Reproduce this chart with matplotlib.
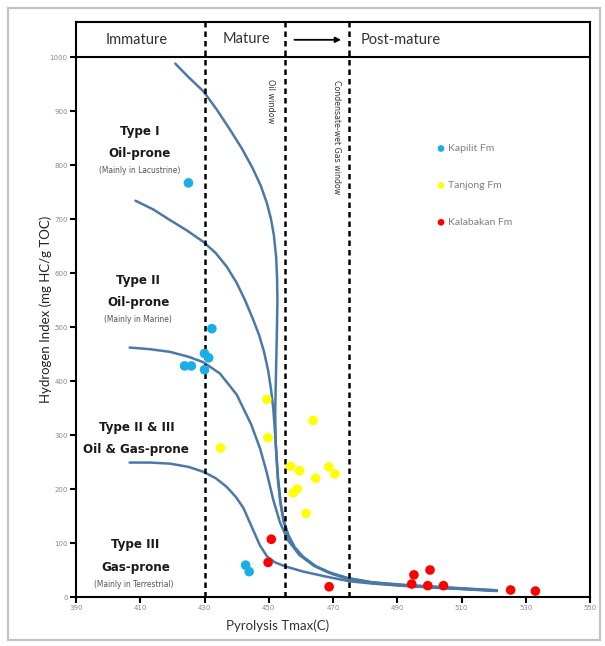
import matplotlib
matplotlib.use('Agg')
import matplotlib.pyplot as plt
from matplotlib import font_manager
from matplotlib.font_manager import FontProperties
from matplotlib.patches import Rectangle

names = {f.name for f in font_manager.fontManager.ttflist}
MAIN = 'Lato' if 'Lato' in names else 'DejaVu Sans'

FILES = [f.fname for f in font_manager.fontManager.ttflist]


def find_narrow(bold):
    if bold:
        prefs = ['LiberationSansNarrow-Bold.', 'DejaVuSansCondensed-Bold.', 'RobotoCondensed-Bold.',
                 'OpenSans-CondBold', 'OpenSans_Condensed-Bold', 'Condensed-Bold.', 'Narrow-Bold.']
    else:
        prefs = ['LiberationSansNarrow-Regular.', 'DejaVuSansCondensed.', 'RobotoCondensed-Regular.',
                 'OpenSans_Condensed-Regular', 'Condensed-Regular.', 'Narrow-Regular.']
    for p in prefs:
        for fn in FILES:
            if p in fn.replace('\\', '/').split('/')[-1] + '':
                return fn
    return None


NB = find_narrow(True)
NR = find_narrow(False)


def fp_bold(size):
    if NB is not None:
        return FontProperties(fname=NB, size=size)
    return FontProperties(family='DejaVu Sans', weight='bold', size=size * 0.8)


def fp_reg(size):
    if NR is not None:
        return FontProperties(fname=NR, size=size)
    return FontProperties(family='DejaVu Sans', size=size * 0.85)


# ---------------- data ----------------
x_ticks = [390, 410, 430, 450, 470, 490, 510, 530, 550]
y_ticks = [0, 100, 200, 300, 400, 500, 600, 700, 800, 900, 1000]

zone_bounds = [430, 455, 475]

kapilit_t = [425.0, 432.3, 430.0, 431.3, 430.0, 423.8, 425.9, 442.8, 443.9]
kapilit_hi = [767, 497, 451, 443, 421, 428, 428, 59, 47]

tanjong_t = [449.4, 449.8, 435.0, 463.8, 456.8, 459.6, 468.7, 470.6, 464.6, 458.9, 457.6, 461.6]
tanjong_hi = [366, 295, 276, 327, 242, 234, 241, 228, 220, 200, 193, 155]

kalabakan_t = [450.8, 449.8, 468.8, 495.2, 500.2, 494.5, 499.5, 504.4, 525.3, 533.0]
kalabakan_hi = [107, 64, 19, 41, 50, 24, 21, 21, 13, 11]

# maturation pathways
type1_t = [420.9, 425.0, 429.6, 433.8, 437.9, 441.7, 445.0, 447.5, 449.4, 450.7, 451.6, 452.3,
           452.6, 452.7, 452.5, 452.2, 452.0, 452.2, 452.8, 453.6, 454.6, 456.0, 458.0, 460.5,
           464.5, 469.0, 474.5, 482.0, 492.0, 502.0, 512.0, 521.0]
type1_hi = [988, 963, 937, 903, 866, 830, 794, 762, 730, 700, 670, 630,
            590, 550, 480, 400, 340, 280, 220, 175, 140, 115, 92, 75,
            57, 45, 35, 27, 22, 18.5, 15, 12]

type2_t = [408.5, 414.0, 419.3, 424.5, 429.6, 433.5, 436.9, 440.0, 442.6, 445.2, 447.0, 448.5,
           449.8, 450.7, 451.4, 452.0, 452.4, 452.9, 453.7, 454.7, 456.1, 458.1, 460.6,
           464.6, 469.1, 474.6, 482.0, 492.0, 502.0, 512.0, 521.0]
type2_hi = [734, 718, 698, 679, 658, 637, 612, 582, 550, 513, 485, 455,
            420, 385, 350, 300, 265, 220, 175, 140, 115, 92, 75,
            57, 45, 35, 27.5, 22.5, 19, 15.5, 12.5]

type23_t = [406.7, 413.0, 419.3, 425.0, 429.6, 434.8, 440.0, 444.5, 447.3, 449.4, 451.4, 453.5,
            456.0, 459.5, 464.0, 469.5, 475.0, 482.0, 492.0, 502.0, 512.0, 521.0]
type23_hi = [462, 459, 454, 445, 435, 414, 375, 320, 275, 230, 180, 138,
             105, 78, 58, 43, 33, 26, 21, 17.5, 14.5, 11.5]

type3_t = [406.7, 413.0, 419.3, 425.0, 429.6, 433.5, 436.9, 439.8, 442.1, 444.7, 447.3, 449.5,
           452.0, 455.0, 460.8, 468.0, 475.3, 482.0, 492.0, 502.0, 512.0, 521.0]
type3_hi = [249, 249, 247, 241, 232, 220, 204, 185, 165, 130, 95, 75,
            64, 57, 47, 37.6, 29, 25, 20.5, 17, 14, 11]

# ---------------- figure ----------------
fig = plt.figure(figsize=(6.05, 6.46), dpi=100)
fig.patch.set_facecolor('white')
fig.patches.append(Rectangle((8 / 605, 1 - 640 / 646), (600 - 8) / 605, (640 - 8) / 646,
                             transform=fig.transFigure, fill=False,
                             edgecolor='#c4c4c4', lw=1.6))

ax = fig.add_axes([76 / 605, 1 - 597 / 646, 514 / 605, 575 / 646])
ax.set_xlim(390, 550)
ax.set_ylim(0, 1065)

curve_col = '#4a79a8'
for t, h in [(type1_t, type1_hi), (type2_t, type2_hi), (type23_t, type23_hi), (type3_t, type3_hi)]:
    ax.plot(t, h, color=curve_col, lw=1.8, solid_capstyle='round', solid_joinstyle='round', zorder=3)

for xb in zone_bounds:
    ax.axvline(xb, color='black', lw=1.8, ls=(0, (2.2, 1.6)), zorder=4)
ax.axhline(1000, color='black', lw=1.5, zorder=4)

ax.scatter(kapilit_t, kapilit_hi, s=48, color='#1aaee8', edgecolors='none', zorder=5, label='Kapilit Fm')
ax.scatter(tanjong_t, tanjong_hi, s=48, color='#ffff00', edgecolors='none', zorder=5, label='Tanjong Fm')
ax.scatter(kalabakan_t, kalabakan_hi, s=48, color='#ff0000', edgecolors='none', zorder=5, label='Kalabakan Fm')

ax.legend(loc='upper left', bbox_to_anchor=(0.694, 0.797), frameon=False,
          labelspacing=2.65, handlelength=0.6, handletextpad=0.35,
          borderpad=0, markerscale=0.7, labelcolor='#7f7f7f',
          prop={'family': MAIN, 'size': 7.5})

# header
hdr_y = 1032
ax.text(408.8, hdr_y, 'Immature', ha='center', va='center', fontsize=10.5, family=MAIN, color='#333333')
ax.text(443.2, hdr_y + 2, 'Mature', ha='center', va='center', fontsize=10.5, family=MAIN, color='#333333')
ax.text(478.5, hdr_y, 'Post-mature', ha='left', va='center', fontsize=10.5, family=MAIN, color='#333333')
ax.annotate('', xy=(472.5, hdr_y), xytext=(458.0, hdr_y),
            arrowprops=dict(arrowstyle='-|>', color='black', lw=1.3, mutation_scale=8,
                            shrinkA=0, shrinkB=0))

# window labels
ax.text(450.7, 918, 'Oil window', rotation=-90, ha='center', va='center',
        fontproperties=fp_reg(6.5), color='#333333')
ax.text(471.1, 852, 'Condensate-wet Gas window', rotation=-90, ha='center', va='center',
        fontproperties=fp_reg(6.3), color='#333333')

# kerogen type labels
lab_col = '#1a1a1a'
sub_col = '#5a5060'


def klabel(x, y, txt, size, bold=True, col=lab_col):
    fp = fp_bold(size) if bold else fp_reg(size)
    ax.text(x, y, txt, ha='center', va='center', fontproperties=fp, color=col)


klabel(409.8, 862, 'Type I', 9.5)
klabel(409.8, 822, 'Oil-prone', 9.5)
klabel(409.8, 790, '(Mainly in Lacustrine)', 6, bold=False, col=sub_col)
klabel(409.4, 586, 'Type II', 9.5)
klabel(409.4, 546, 'Oil-prone', 9.5)
klabel(409.4, 514, '(Mainly in Marine)', 6, bold=False, col=sub_col)
klabel(409.0, 314, 'Type II & III', 9.5)
klabel(408.8, 274, 'Oil & Gas-prone', 9.5)
klabel(408.5, 97, 'Type III', 9.5)
klabel(408.5, 55, 'Gas-prone', 9.5)
klabel(408.0, 23, '(Mainly in Terrestrial)', 6, bold=False, col=sub_col)

# axes styling
ax.set_xticks(x_ticks)
ax.set_xticklabels([str(v) for v in x_ticks])
ax.set_yticks(y_ticks)
ax.set_yticklabels([str(v) for v in y_ticks])
ax.tick_params(axis='both', direction='out', length=4, width=1.5, color='black',
               labelsize=5, labelcolor='#8a8a8a', pad=2)
for sp in ax.spines.values():
    sp.set_linewidth(1.5)
    sp.set_color('black')

ax.set_xlabel('Pyrolysis Tmax(C)', fontsize=9.5, family=MAIN, color='#333333')
ax.xaxis.set_label_coords((278 - 76) / 514, -(619 - 597) / 575)
ax.set_ylabel('Hydrogen Index (mg HC/g TOC)', fontsize=9.5, family=MAIN, color='#222222')
ax.yaxis.set_label_coords(-0.046, 0.50)

fig.savefig('out.png', dpi=100, facecolor='white')
